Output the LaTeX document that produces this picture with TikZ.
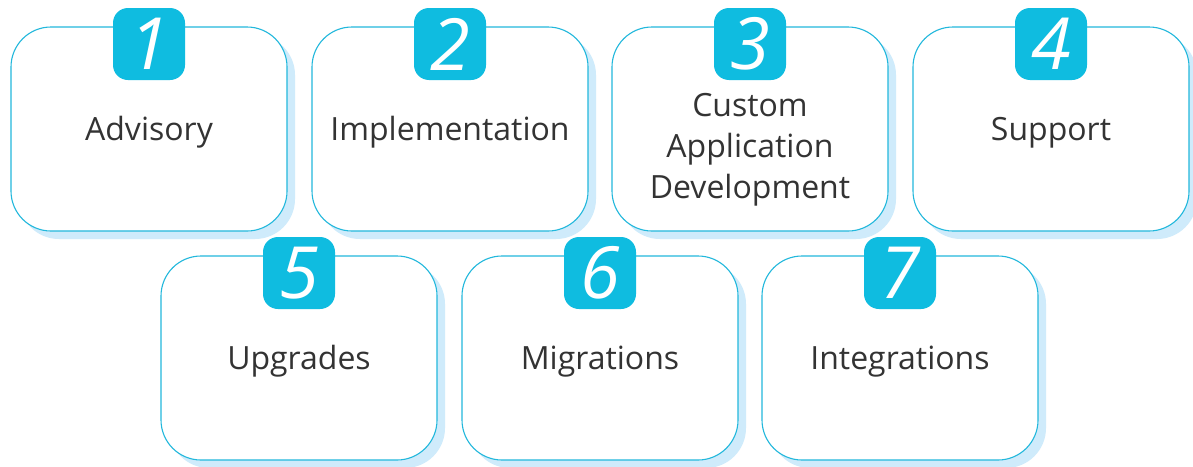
\documentclass[tikz,border=0pt]{standalone}
\usepackage{fontspec}
\setmainfont{Open Sans}
\usetikzlibrary{positioning}
\definecolor{cyanb}{HTML}{0FBCE0}
\definecolor{edgeb}{HTML}{22B8DC}
\definecolor{shad}{HTML}{CFEBFB}
\definecolor{txt}{HTML}{333333}
\tikzset{
  card/.style={draw=edgeb, line width=1.1pt, fill=white, rounded corners=40pt,
    minimum width=276pt, minimum height=204pt, inner sep=0pt},
  cardshadow/.style={fill=shad, rounded corners=40pt, minimum width=276pt,
    minimum height=204pt, inner sep=0pt, draw=none},
  cardtext/.style={inner sep=0pt, font=\fontsize{32}{41}\selectfont, text=txt,
    align=center},
  badge/.style={fill=cyanb, rounded corners=15pt, minimum width=72pt,
    minimum height=72pt, inner sep=0pt, text=white,
    font=\fontsize{72}{72}\selectfont\itshape}
}
\newcommand{\mkcard}[6]{%
  \node[cardshadow] (#1s) at (#2+8,#3+8) {};
  \node[card] (#1) at (#2,#3) {};
  \node[cardtext,#6] (#1t) at (#2,#3+11) {#5};
  \node[badge] (#1b) at (#2,#3-85) {#4};
}
\begin{document}
\begin{tikzpicture}[x=1pt,y=-1pt]
\useasboundingbox[fill=white] (0,0) rectangle (1193,466);
\mkcard{c1}{149}{129}{1}{Advisory}{anchor=base}
\mkcard{c2}{450}{129}{2}{Implementation}{anchor=base}
\mkcard{c3}{750}{129}{3}{Custom\\Application\\Development}{anchor=center,yshift=-10pt}
\mkcard{c4}{1051}{129}{4}{Support}{anchor=base}
\mkcard{c5}{299}{358}{5}{Upgrades}{anchor=base}
\mkcard{c6}{600}{358}{6}{Migrations}{anchor=base}
\mkcard{c7}{900}{358}{7}{Integrations}{anchor=base}
\end{tikzpicture}
\end{document}
